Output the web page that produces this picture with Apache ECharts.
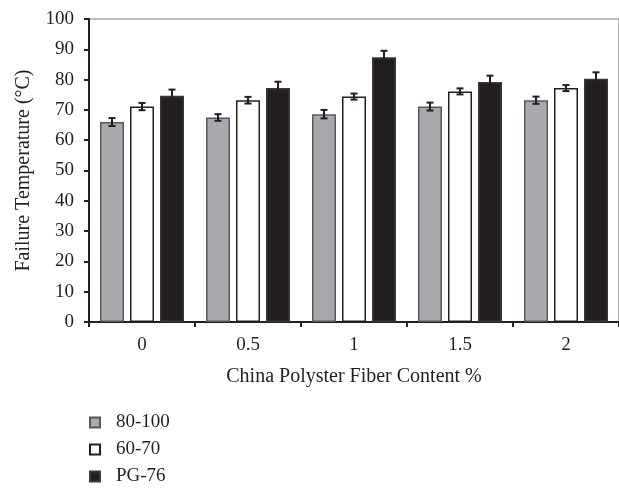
<!DOCTYPE html>
<html>
<head>
<meta charset="utf-8">
<script src="https://cdn.jsdelivr.net/npm/echarts@6/dist/echarts.min.js"></script>
<style>
  html, body { margin: 0; padding: 0; background: #fff; }
  #chart { width: 619px; height: 489px; }
</style>
</head>
<body>
<div id="chart"></div>
<script>
// Fiber content (%) on the category axis
const categories = ['0', '0.5', '1', '1.5', '2'];

// Mean failure temperature (°C) per binder grade
const grade80_100 = [66.0, 67.5, 68.6, 71.1, 73.2];
const grade60_70 = [71.1, 73.2, 74.4, 76.1, 77.2];
const gradePG76 = [74.7, 77.2, 87.4, 79.2, 80.3];

// Half-width of the error bars (°C)
const err80_100 = [1.3, 1.1, 1.4, 1.3, 1.2];
const err60_70 = [1.2, 1.1, 1.0, 1.0, 1.0];
const errPG76 = [2.0, 2.1, 2.1, 2.1, 2.1];

const seriesNames = ['80-100', '60-70', 'PG-76'];
const yTicks = { min: 0, max: 100, step: 10 };

const INK = '#231f20';
const FONT = 'Liberation Serif';
const BAR_W = 24;
const BAR_GAP = 6;

const chart = echarts.init(document.getElementById('chart'), null, { renderer: 'canvas' });

function barSeries(name, values, fill, stroke) {
  return {
    name: name,
    type: 'bar',
    data: values,
    barWidth: BAR_W,
    barGap: (BAR_GAP / BAR_W * 100) + '%',
    itemStyle: { color: fill, borderColor: stroke, borderWidth: 1.5 },
    emphasis: { disabled: true }
  };
}

// Error whiskers, shifted sideways onto the bar of their own series
function errorSeries(values, errs, slot) {
  return {
    type: 'custom',
    silent: true,
    z: 5,
    data: values.map((v, i) => [i, v - errs[i], v + errs[i]]),
    renderItem: function (params, api) {
      const lo = api.coord([api.value(0), api.value(1)]);
      const hi = api.coord([api.value(0), api.value(2)]);
      const x = lo[0] + slot * (BAR_W + BAR_GAP);
      const cap = 3.5;
      const st = { stroke: INK, lineWidth: 2 };
      return {
        type: 'group',
        children: [
          { type: 'line', shape: { x1: x, y1: lo[1], x2: x, y2: hi[1] }, style: st },
          { type: 'line', shape: { x1: x - cap, y1: lo[1], x2: x + cap, y2: lo[1] }, style: st },
          { type: 'line', shape: { x1: x - cap, y1: hi[1], x2: x + cap, y2: hi[1] }, style: st }
        ]
      };
    }
  };
}

chart.setOption({
  animation: false,
  backgroundColor: '#fff',
  textStyle: { fontFamily: FONT, color: INK },
  grid: {
    left: 89, top: 19, bottom: 167, right: -9,
    show: true, borderColor: '#808080', borderWidth: 1.2, backgroundColor: 'transparent'
  },
  legend: {
    orient: 'vertical',
    left: 89,
    top: 413,
    padding: 0,
    itemWidth: 10,
    itemHeight: 10,
    itemGap: 8,
    icon: 'rect',
    selectedMode: false,
    data: seriesNames,
    textStyle: { fontFamily: FONT, fontSize: 19, color: INK, lineHeight: 19, padding: [0, 0, 0, 11] }
  },
  xAxis: {
    type: 'category',
    data: categories,
    name: 'China Polyster Fiber Content %',
    nameLocation: 'middle',
    nameGap: 45,
    nameTextStyle: { fontFamily: FONT, fontSize: 20, color: INK },
    axisLine: { lineStyle: { color: INK, width: 2 } },
    axisTick: { show: true, length: 5, lineStyle: { color: INK, width: 2 } },
    axisLabel: { fontFamily: FONT, fontSize: 19, color: INK, margin: 14 },
    splitLine: { show: false }
  },
  yAxis: {
    type: 'value',
    min: yTicks.min,
    max: yTicks.max,
    interval: yTicks.step,
    name: 'Failure Temperature (°C)',
    nameLocation: 'middle',
    nameGap: 55,
    nameTextStyle: { fontFamily: FONT, fontSize: 20, color: INK },
    axisLine: { show: true, lineStyle: { color: INK, width: 2 } },
    axisTick: { show: true, length: 5, lineStyle: { color: INK, width: 2 } },
    axisLabel: { fontFamily: FONT, fontSize: 19, color: INK, margin: 15 },
    splitLine: { show: false }
  },
  series: [
    barSeries(seriesNames[0], grade80_100, '#a7a9ac', '#58595b'),
    barSeries(seriesNames[1], grade60_70, '#ffffff', INK),
    barSeries(seriesNames[2], gradePG76, INK, '#3a3a3a'),
    errorSeries(grade80_100, err80_100, -1),
    errorSeries(grade60_70, err60_70, 0),
    errorSeries(gradePG76, errPG76, 1)
  ]
});
</script>
</body>
</html>
